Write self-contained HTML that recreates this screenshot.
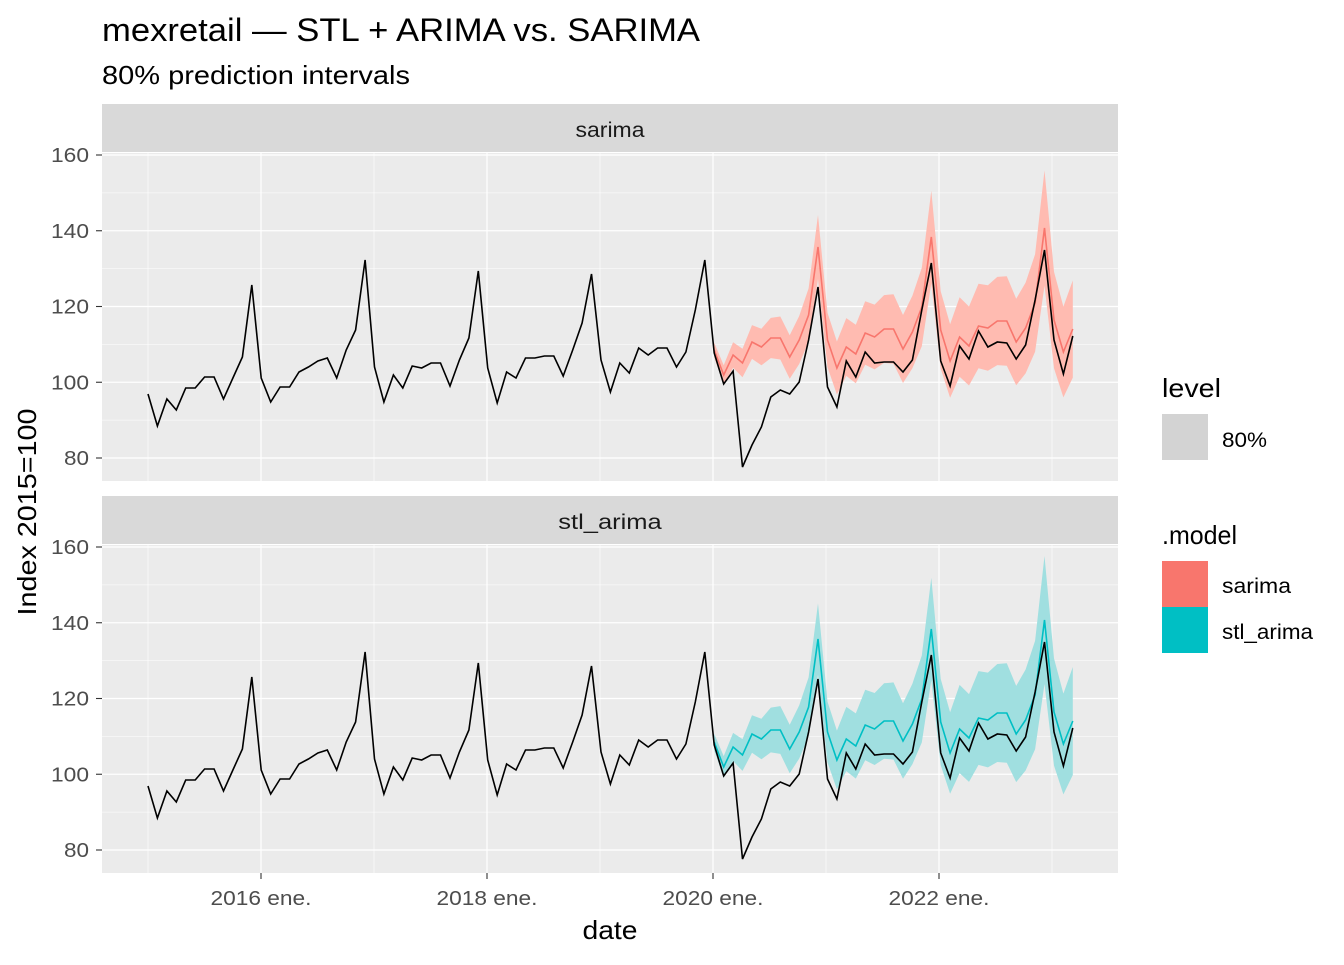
<!DOCTYPE html>
<html><head><meta charset="utf-8"><style>
body{margin:0;background:#fff;}
svg text{font-family:"Liberation Sans",Arial,sans-serif;}
</style></head><body>
<svg id="s" width="1344" height="960" xmlns="http://www.w3.org/2000/svg"></svg>
<script>
const obs=[394,426,399,410,388,388,377,377,399,378,357,285,378,402,387,387,372,367,361,358,378,350,330,260,367,402,375,388,366,368,363,363,386,360,338,271,368,403,372,378,358,358,356,356,376,350,323,274,360,392,363,373,348,355,348,348,367,352,310,260,353,384,371,467,445,427,397,390,394,382,340,287,387,407,361,377,352,363,362,362,372,360,310,263,361,386,346,359,331,347,342,343,359,345,300,250,340,374,336];
const fm=[350,375,355,363,342,347,338,338,357,340,315,247,340,368,347,354,333,337,329,329,349,332,307,237,330,361,337,346,326,328,321,321,342,328,303,228,320,352,329];
const X=i=>148+i*9.437;
const S=3.7875;
let h='';
function txt(x,y,t,sz,fill,anchor,len,extra){h+=`<text x="${x}" y="${y}" font-size="${sz}" fill="${fill}" text-anchor="${anchor||'start'}" ${len?`textLength="${len}" lengthAdjust="spacingAndGlyphs"`:''} ${extra||''}>${t}</text>`;}
h+=`<rect width="1344" height="960" fill="#fff"/>`;
txt(102,41,'mexretail — STL + ARIMA vs. SARIMA',32,'#000','start',598);
txt(102,84,'80% prediction intervals',26,'#000','start',308);
function panel(off,name,col,fillc,bscale){
  const top=153+off,bot=481+off;
  h+=`<rect x="102" y="${104+off}" width="1016" height="48" fill="#D9D9D9"/>`;
  txt(610,137+off,name,21,'#1A1A1A','middle',name.length*11.5);
  h+=`<rect x="102" y="${top}" width="1016" height="${bot-top}" fill="#EBEBEB"/>`;
  const yv=v=>155+off+(160-v)*S;
  for(const v of [90,110,130,150]) h+=`<line x1="102" x2="1118" y1="${yv(v)}" y2="${yv(v)}" stroke="#fff" stroke-width="0.6"/>`;
  for(const x of [148,374,600,826,1052]) h+=`<line x1="${x}" x2="${x}" y1="${top}" y2="${bot}" stroke="#fff" stroke-width="0.6"/>`;
  for(const v of [80,100,120,140,160]){h+=`<line x1="102" x2="1118" y1="${yv(v)}" y2="${yv(v)}" stroke="#fff" stroke-width="1.2"/>`;
    h+=`<line x1="96" x2="102" y1="${yv(v)}" y2="${yv(v)}" stroke="#333" stroke-width="1.1"/>`;
    txt(89,yv(v)+7,v,20,'#4D4D4D','end',v>=100?38:25);}
  for(const x of [261,487,713,939]) h+=`<line x1="${x}" x2="${x}" y1="${top}" y2="${bot}" stroke="#fff" stroke-width="1.2"/>`;
  let up=[],lo=[],mn=[];
  fm.forEach((y,k)=>{const i=60+k;const v=160-(y-155)/S;const hw=0.02*Math.sqrt(k+1)*v*bscale*S;
    up.push(`${X(i).toFixed(1)},${(y+off-hw).toFixed(1)}`);lo.unshift(`${X(i).toFixed(1)},${(y+off+hw).toFixed(1)}`);mn.push(`${X(i).toFixed(1)},${y+off}`);});
  h+=`<polygon points="${up.concat(lo).join(' ')}" fill="${fillc}"/>`;
  h+=`<polyline points="${mn.join(' ')}" fill="none" stroke="${col}" stroke-width="1.6"/>`;
  h+=`<polyline points="${obs.map((y,i)=>X(i).toFixed(1)+','+(y+off)).join(' ')}" fill="none" stroke="#000" stroke-width="1.6"/>`;
}
panel(0,'sarima','#F8766D','#FFBBB1',0.9);
panel(392,'stl_arima','#00BFC4','#A0DFE0',1.0);
for(const [x,l] of [[261,'2016 ene.'],[487,'2018 ene.'],[713,'2020 ene.'],[939,'2022 ene.']]){
  h+=`<line x1="${x}" x2="${x}" y1="873" y2="879" stroke="#333" stroke-width="1.1"/>`;
  txt(x,905,l,20,'#4D4D4D','middle',101);}
txt(610,939,'date',26,'#000','middle',55);
txt(0,0,'Index 2015=100',26,'#000','middle',207,'transform="translate(36,512) rotate(-90)"');
txt(1162,397,'level',26,'#000','start',59);
h+=`<rect x="1162" y="414" width="46" height="46" fill="#D3D3D3"/>`;
txt(1222,447,'80%',21,'#000','start',45);
txt(1162,544,'.model',26,'#000','start',75);
h+=`<rect x="1162" y="561" width="46" height="46" fill="#F8766D"/><rect x="1162" y="607" width="46" height="46" fill="#00BFC4"/>`;
txt(1222,593,'sarima',21,'#000','start',69);
txt(1222,639,'stl_arima',21,'#000','start',91);
document.getElementById('s').innerHTML=h;
</script>
</body></html>
